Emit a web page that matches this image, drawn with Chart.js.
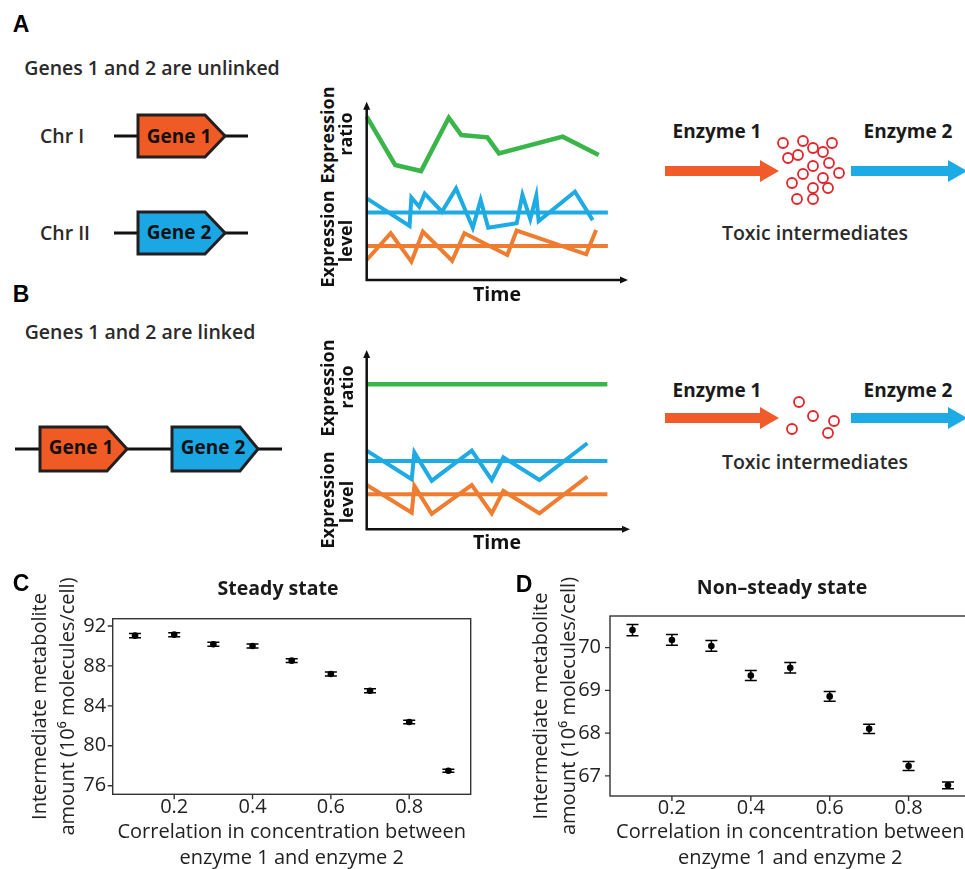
<!DOCTYPE html>
<html>
<head>
<meta charset="utf-8">
<script src="https://cdn.jsdelivr.net/npm/chart.js@4.4.1/dist/chart.umd.min.js"></script>
<style>
  html, body { margin: 0; padding: 0; background: #fff; width: 965px; height: 869px; overflow: hidden; }
  body { position: relative; font-family: "Open Sans", Lato, sans-serif; color: #231f20; }
  .t { position: absolute; transform: translate(-50%, -50%); white-space: nowrap; line-height: 1; }
  .v { transform: translate(-50%, -50%) rotate(-90deg); }
  .letter { font-family: "Liberation Sans", Arial, sans-serif; font-weight: bold; font-size: 23px; color: #000; }
  .lbl { font-size: 19.5px; font-weight: 600; color: #2a2a2a; }
  .bold { font-size: 18px; font-weight: bold; color: #111; }
  .gene { font-size: 19px; font-weight: bold; color: #111; }
  .head { font-size: 19.5px; font-weight: bold; color: #1a1a1a; }
  canvas { position: absolute; }
  svg { position: absolute; left: 0; top: 0; }
</style>
</head>
<body>

<svg width="965" height="869">
  <!-- panel A chromosomes -->
  <line x1="114" y1="136" x2="248" y2="136" stroke="#111" stroke-width="3"/>
  <polygon points="138,115 205,115 225,136 205,157 138,157" fill="#f05a24" stroke="#231f20" stroke-width="3"/>
  <line x1="114" y1="233" x2="248" y2="233" stroke="#111" stroke-width="3"/>
  <polygon points="138,212 205,212 225,233 205,254 138,254" fill="#1aa7e4" stroke="#231f20" stroke-width="3"/>
  <!-- panel B chromosome -->
  <line x1="15" y1="449" x2="282" y2="449" stroke="#111" stroke-width="3"/>
  <polygon points="40,427 107,427 127,449 107,471 40,471" fill="#f05a24" stroke="#231f20" stroke-width="3"/>
  <polygon points="172,427 240,427 258,449 240,471 172,471" fill="#1aa7e4" stroke="#231f20" stroke-width="3"/>
  <!-- enzyme arrows -->
  <polygon points="665,166 760,166 760,160 779,171 760,182 760,176 665,176" fill="#f15a29"/>
  <polygon points="851,166 948,166 948,160 967,171 948,182 948,176 851,176" fill="#1cabe4"/>
  <polygon points="665,413 760,413 760,407 779,418 760,429 760,423 665,423" fill="#f15a29"/>
  <polygon points="851,413 948,413 948,407 967,418 948,429 948,423 851,423" fill="#1cabe4"/>
</svg>

<canvas id="lineA" width="285" height="195" style="left:355px;top:95px;width:285px;height:195px"></canvas>
<canvas id="lineB" width="285" height="200" style="left:355px;top:340px;width:285px;height:200px"></canvas>
<canvas id="dotsA" width="90" height="90" style="left:765px;top:125px;width:90px;height:90px"></canvas>
<canvas id="dotsB" width="90" height="60" style="left:765px;top:385px;width:90px;height:60px"></canvas>
<canvas id="chartC" width="480" height="330" style="left:0px;top:560px;width:480px;height:330px"></canvas>
<canvas id="chartD" width="500" height="330" style="left:480px;top:560px;width:500px;height:330px"></canvas>

<div class="t letter" style="left:21px;top:24px">A</div>
<div class="t letter" style="left:21px;top:294px">B</div>
<div class="t letter" style="left:21px;top:583px">C</div>
<div class="t letter" style="left:524px;top:584px">D</div>

<div class="t lbl" style="left:152px;top:68px">Genes 1 and 2 are unlinked</div>
<div class="t lbl" style="left:62px;top:136px">Chr I</div>
<div class="t lbl" style="left:65px;top:233px">Chr II</div>
<div class="t gene" style="left:179px;top:136px">Gene 1</div>
<div class="t gene" style="left:179px;top:232px">Gene 2</div>
<div class="t lbl" style="left:140px;top:332px">Genes 1 and 2 are linked</div>
<div class="t gene" style="left:81px;top:447px">Gene 1</div>
<div class="t gene" style="left:213px;top:447px">Gene 2</div>

<div class="t bold v" style="left:327px;top:135px">Expression</div>
<div class="t bold v" style="left:345px;top:134px">ratio</div>
<div class="t bold v" style="left:327px;top:239px">Expression</div>
<div class="t bold v" style="left:345px;top:241px">level</div>
<div class="t bold" style="left:497px;top:294px;font-size:19.5px">Time</div>
<div class="t bold v" style="left:327px;top:388px">Expression</div>
<div class="t bold v" style="left:346px;top:387px">ratio</div>
<div class="t bold v" style="left:327px;top:500px">Expression</div>
<div class="t bold v" style="left:346px;top:502px">level</div>
<div class="t bold" style="left:497px;top:542px;font-size:19.5px">Time</div>

<div class="t head" style="left:717px;top:131px;font-size:19px">Enzyme 1</div>
<div class="t head" style="left:908px;top:131px;font-size:19px">Enzyme 2</div>
<div class="t lbl" style="left:815px;top:233px">Toxic intermediates</div>
<div class="t head" style="left:717px;top:390px;font-size:19px">Enzyme 1</div>
<div class="t head" style="left:908px;top:390px;font-size:19px">Enzyme 2</div>
<div class="t lbl" style="left:815px;top:462px">Toxic intermediates</div>

<div class="t head" style="left:278px;top:588px">Steady state</div>
<div class="t head" style="left:782px;top:587px">Non–steady state</div>

<script>
// ---- panel A: unlinked genes, traces over time (axis units 0-100) ----
const timeRatioA = [0, 10.9, 20.8, 31.4, 36.2, 46.2, 50.6, 75, 88.8];
const ratioA = [91.6, 64.5, 61.1, 91.0, 81.3, 80, 71.0, 80.4, 70.1];
const timeGene2A = [0, 16.4, 17.1, 20.1, 22.2, 28.8, 34.2, 40.6, 43.6, 46.5, 57.4, 59.6, 62.6, 64.9, 65.8, 79.7, 86.5];
const gene2A = [45.8, 30.3, 46.2, 41.1, 48.4, 38.3, 51.4, 29.3, 44.9, 29.3, 31.8, 47.7, 34.2, 47.3, 33.1, 49.5, 33.6];
const timeGene1A = [0, 9.2, 17.1, 21.5, 32.7, 37.4, 53.8, 57.4, 84, 87.8];
const gene1A = [11.2, 26.2, 10.3, 27.1, 10.8, 26.2, 14.0, 27.7, 14.4, 28.0];
const meanTimeA = [0, 92.3];
const gene2MeanA = [37.8, 37.8];
const gene1MeanA = [19.1, 19.1];

// ---- panel B: linked genes ----
const timeRatioB = [0, 91.4];
const ratioB = [80.9, 80.9];
const timeGenesB = [0, 17.1, 18.1, 24.7, 39.9, 47.5, 51.9, 65.6, 83.8];
const gene2B = [43.9, 27.9, 42.9, 27.1, 43.9, 27.5, 40.1, 27.5, 48.0];
const gene1B = [24.7, 9.3, 24.2, 8.6, 24.7, 8.9, 21.4, 8.9, 29.4];
const meanTimeB = [0, 91.4];
const gene2MeanB = [38.1, 38.1];
const gene1MeanB = [19.5, 19.5];

// toxic intermediates (scatter of small circles)
const toxAx = [8, 28, 57, 38, 48, 13, 23, 54, 38, 28, 64, 48, 17, 38, 53, 22, 38];
const toxAy = [8, 6, 8, 13, 17, 23, 20, 28, 31, 39, 38, 43, 48, 53, 53, 64, 64];
const toxBx = [24, 38, 59, 17, 53];
const toxBy = [7, 21, 26, 34, 38];

// ---- panels C and D ----
const correlation = [0.1, 0.2, 0.3, 0.4, 0.5, 0.6, 0.7, 0.8, 0.9];
const steadyMean = [91.03, 91.13, 90.17, 90.0, 88.53, 87.19, 85.52, 82.38, 77.5];
const steadyErr = [0.22, 0.2, 0.2, 0.2, 0.2, 0.2, 0.2, 0.18, 0.16];
const nonSteadyMean = [70.41, 70.18, 70.04, 69.35, 69.53, 68.86, 68.10, 67.23, 66.78];
const nonSteadyErr = [0.13, 0.125, 0.125, 0.117, 0.125, 0.113, 0.11, 0.105, 0.08];
const corrTicks = [0.2, 0.4, 0.6, 0.8];
const steadyTicks = [76, 80, 84, 88, 92];
const nonSteadyTicks = [67, 68, 69, 70];

const GREEN = "#3ab54a", BLUE = "#1eaae2", ORANGE = "#ee7d31";
const pts = (xs, ys) => xs.map((x, i) => ({ x, y: ys[i] }));

// axes with arrow heads for the schematic plots
const arrowAxes = {
  id: "arrowAxes",
  afterDatasetsDraw(chart) {
    const { ctx, chartArea: a } = chart;
    ctx.save();
    ctx.strokeStyle = "#111";
    ctx.fillStyle = "#111";
    ctx.lineWidth = 2.5;
    ctx.beginPath();
    ctx.moveTo(a.left, a.top + 5);
    ctx.lineTo(a.left, a.bottom);
    ctx.lineTo(a.right - 5, a.bottom);
    ctx.stroke();
    ctx.beginPath();
    ctx.moveTo(a.left, a.top);
    ctx.lineTo(a.left - 3.5, a.top + 8);
    ctx.lineTo(a.left + 3.5, a.top + 8);
    ctx.fill();
    ctx.beginPath();
    ctx.moveTo(a.right, a.bottom);
    ctx.lineTo(a.right - 8, a.bottom - 3.5);
    ctx.lineTo(a.right - 8, a.bottom + 3.5);
    ctx.fill();
    ctx.restore();
  },
};

function traceChart(id, sets, padding) {
  return new Chart(document.getElementById(id), {
    type: "line",
    data: {
      datasets: sets.map(([data, color]) => ({
        data,
        borderColor: color,
        borderWidth: color === GREEN ? 4.5 : 4,
        pointRadius: 0,
        tension: 0,
        clip: false,
      })),
    },
    options: {
      responsive: false,
      animation: false,
      events: [],
      layout: { padding },
      plugins: { legend: { display: false }, tooltip: { enabled: false } },
      scales: {
        x: { type: "linear", min: 0, max: 100, display: false },
        y: { type: "linear", min: 0, max: 100, display: false },
      },
    },
    plugins: [arrowAxes],
  });
}

traceChart("lineA", [
  [pts(timeGene1A, gene1A), ORANGE],
  [pts(meanTimeA, gene1MeanA), ORANGE],
  [pts(timeGene2A, gene2A), BLUE],
  [pts(meanTimeA, gene2MeanA), BLUE],
  [pts(timeRatioA, ratioA), GREEN],
], { left: 11.7, top: 6.7, right: 12, bottom: 10 });

traceChart("lineB", [
  [pts(timeGenesB, gene1B), ORANGE],
  [pts(meanTimeB, gene1MeanB), ORANGE],
  [pts(timeGenesB, gene2B), BLUE],
  [pts(meanTimeB, gene2MeanB), BLUE],
  [pts(timeRatioB, ratioB), GREEN],
], { left: 11.7, top: 10, right: 10, bottom: 10.7 });

function circles(id, xs, ys, ymax) {
  return new Chart(document.getElementById(id), {
    type: "scatter",
    data: {
      datasets: [{
        data: pts(xs, ys),
        pointRadius: 5,
        borderWidth: 1.8,
        borderColor: "#e2242b",
        backgroundColor: "#fff",
        clip: false,
      }],
    },
    options: {
      responsive: false,
      animation: false,
      events: [],
      layout: { padding: 10 },
      plugins: { legend: { display: false }, tooltip: { enabled: false } },
      scales: {
        x: { min: 0, max: 70, display: false },
        y: { min: 0, max: ymax, reverse: true, display: false },
      },
    },
  });
}
circles("dotsA", toxAx, toxAy, 70);
circles("dotsB", toxBx, toxBy, 40);

// panel box, tick marks and error bars
const boxAndErrors = {
  id: "boxAndErrors",
  afterDatasetsDraw(chart, args, opts) {
    const { ctx, chartArea: a, scales: { x, y } } = chart;
    ctx.save();
    ctx.strokeStyle = "#333";
    ctx.lineWidth = 1.4;
    ctx.strokeRect(a.left, a.top, a.right - a.left, a.bottom - a.top);
    ctx.beginPath();
    opts.yTicks.forEach(v => {
      const py = y.getPixelForValue(v);
      ctx.moveTo(a.left - 5, py);
      ctx.lineTo(a.left, py);
    });
    corrTicks.forEach(v => {
      const px = x.getPixelForValue(v);
      ctx.moveTo(px, a.bottom);
      ctx.lineTo(px, a.bottom + 5);
    });
    ctx.stroke();
    ctx.strokeStyle = "#000";
    ctx.lineWidth = 1.5;
    ctx.beginPath();
    opts.means.forEach((m, i) => {
      const px = x.getPixelForValue(correlation[i]);
      const lo = y.getPixelForValue(m - opts.errs[i]);
      const hi = y.getPixelForValue(m + opts.errs[i]);
      ctx.moveTo(px, lo); ctx.lineTo(px, hi);
      ctx.moveTo(px - 6, lo); ctx.lineTo(px + 6, lo);
      ctx.moveTo(px - 6, hi); ctx.lineTo(px + 6, hi);
    });
    ctx.stroke();
    ctx.restore();
  },
};

const axisFont = { family: "'Open Sans', Lato, sans-serif", size: 20 };

function dotPlot(id, means, errs, yTicks, yMin, yMax, lay) {
  return new Chart(document.getElementById(id), {
    type: "scatter",
    data: {
      datasets: [{
        data: pts(correlation, means),
        pointRadius: 3.3,
        borderWidth: 0,
        backgroundColor: "#000",
      }],
    },
    options: {
      responsive: false,
      animation: false,
      events: [],
      layout: { padding: { top: lay.top, right: lay.right, left: 0, bottom: 0 } },
      plugins: {
        legend: { display: false },
        tooltip: { enabled: false },
        boxAndErrors: { means, errs, yTicks },
      },
      scales: {
        x: {
          type: "linear",
          min: 0.043,
          max: 0.957,
          grid: { display: false, drawTicks: false },
          border: { display: false },
          afterBuildTicks: s => { s.ticks = corrTicks.map(value => ({ value })); },
          afterFit: s => { s.height = lay.xHeight; },
          ticks: { font: axisFont, color: "#222", padding: lay.xPad, callback: v => String(v) },
          title: {
            display: true,
            text: ["Correlation in concentration between", "enzyme 1 and enzyme 2"],
            font: { ...axisFont, lineHeight: 1.3 },
            color: "#222",
            padding: { top: 0, bottom: lay.xTitlePad },
          },
        },
        y: {
          type: "linear",
          min: yMin,
          max: yMax,
          grid: { display: false, drawTicks: false },
          border: { display: false },
          afterBuildTicks: s => { s.ticks = yTicks.map(value => ({ value })); },
          afterFit: s => { s.width = lay.yWidth; },
          ticks: { font: axisFont, color: "#222", padding: lay.yPad },
          title: {
            display: true,
            text: ["Intermediate metabolite", "amount (10\u2076 molecules/cell)"],
            font: { ...axisFont, lineHeight: 1.4 },
            color: "#222",
            padding: { top: lay.yTitlePad, bottom: 0 },
          },
        },
      },
    },
    plugins: [boxAndErrors],
  });
}

dotPlot("chartC", steadyMean, steadyErr, steadyTicks, 75.14, 92.73,
  { top: 58.7, right: 9.3, xHeight: 95.7, yWidth: 112.7, xPad: 1, yPad: 6.5, xTitlePad: 18.5, yTitlePad: 26 });
dotPlot("chartD", nonSteadyMean, nonSteadyErr, nonSteadyTicks, 66.53, 70.74,
  { top: 56, right: 9.5, xHeight: 94, yWidth: 130, xPad: 0.5, yPad: 9, xTitlePad: 19, yTitlePad: 47.7 });
</script>
</body>
</html>
